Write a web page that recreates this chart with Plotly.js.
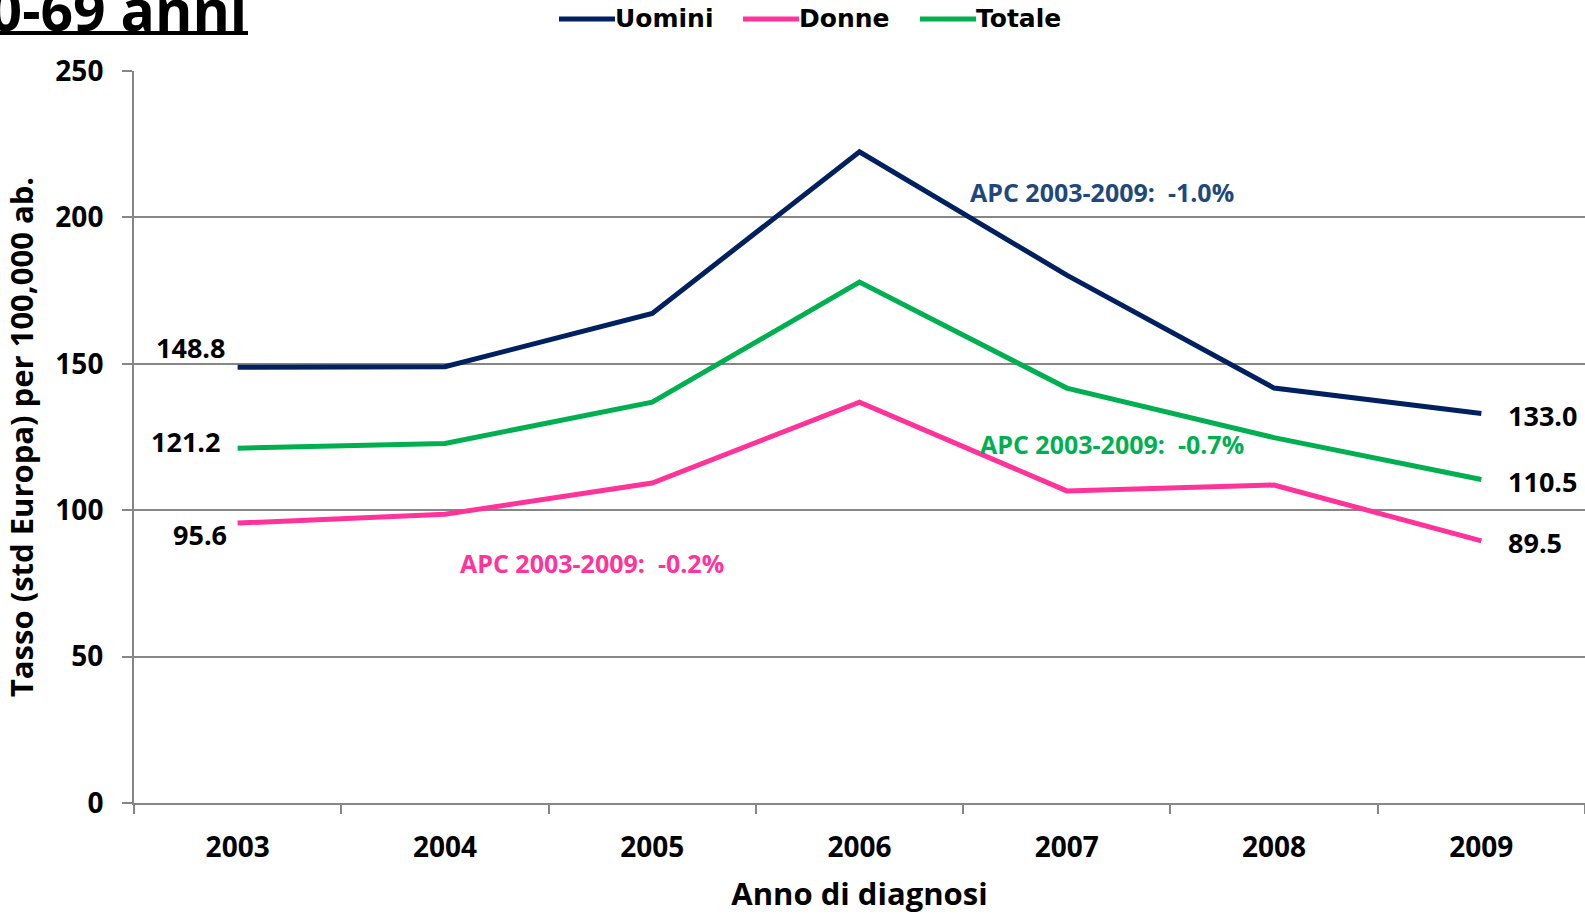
<!DOCTYPE html>
<html>
<head>
<meta charset="utf-8">
<script src="https://cdn.plot.ly/plotly-3.0.1.min.js"></script>
<style>
  html, body { margin: 0; padding: 0; background: #ffffff; }
  #chart { width: 1585px; height: 914px; }
</style>
</head>
<body>
<div id="chart"></div>
<script>
// ---- Data ----
const years = ["2003", "2004", "2005", "2006", "2007", "2008", "2009"];
const uomini = [148.8, 149.0, 167.2, 222.4, 180.3, 141.7, 133.0];
const donne  = [95.6, 98.6, 109.3, 136.9, 106.6, 108.6, 89.5];
const totale = [121.2, 122.8, 136.9, 177.9, 141.7, 124.8, 110.5];
const seriesNames = ["Uomini", "Donne", "Totale"];
const apcLabels = ["APC 2003-2009:\u00a0\u00a0-1.0%", "APC 2003-2009:\u00a0\u00a0-0.2%", "APC 2003-2009:\u00a0\u00a0-0.7%"];
const titleText = "50-69 anni";
const yTicks = [0, 50, 100, 150, 200, 250];

const colors = ["#002060", "#ff3399", "#00b050"];
const apcColors = ["#1f497d", "#ff3399", "#00b050"];
const FONT = "'Open Sans', 'DejaVu Sans', sans-serif";

const allSeries = [uomini, donne, totale];

const traces = allSeries.map((vals, i) => ({
  type: "scatter",
  mode: "lines",
  x: years,
  y: vals,
  name: seriesNames[i],
  line: { color: colors[i], width: 5 },
  hoverinfo: "x+y+name"
}));

// plot geometry helpers (paper coords from pixels)
const W = 1585, H = 914, ML = 134, MR = 0, MT = 71, MB = 111;
const PW = W - ML - MR, PH = H - MT - MB;
const px = v => (v - ML) / PW;
const py = v => 1 + (MT - v) / PH;

// end-point labels (category axis: use indices)
const first = 0, last = years.length - 1;
const leftShift = [{ x: -11, y: 20 }, { x: -9, y: -11 }, { x: -16, y: 7 }];
const annotations = [];
allSeries.forEach((vals, i) => {
  annotations.push({
    x: first, y: vals[first], xref: "x", yref: "y",
    text: vals[first].toFixed(1), showarrow: false,
    xanchor: "right", yanchor: "middle",
    xshift: leftShift[i].x, yshift: leftShift[i].y,
    font: { family: FONT, size: 27, color: "#000000", weight: 700 }
  });
  annotations.push({
    x: last, y: vals[last], xref: "x", yref: "y",
    text: vals[last].toFixed(1), showarrow: false,
    xanchor: "left", yanchor: "middle",
    xshift: 25, yshift: -2,
    font: { family: FONT, size: 27, color: "#000000", weight: 700 }
  });
});

// APC labels (positioned in axis coordinates)
const apcPos = [{ x: 4.17, y: 208.7 }, { x: 1.71, y: 81.9 }, { x: 4.22, y: 122.5 }];
apcLabels.forEach((t, i) => {
  annotations.push({
    x: apcPos[i].x, y: apcPos[i].y, xref: "x", yref: "y",
    text: t, showarrow: false, xanchor: "center", yanchor: "middle",
    font: { family: FONT, size: 25, color: apcColors[i], weight: 700 }
  });
});

// Page title (cut off at left edge as in reference)
annotations.push({
  x: px(249), y: py(9), xref: "paper", yref: "paper",
  text: titleText, showarrow: false, xanchor: "right", yanchor: "middle",
  font: { family: FONT, size: 57, color: "#000000", weight: 700 }
});

const shapes = [
  { type: "line", xref: "paper", yref: "paper",
    x0: px(-5), x1: px(248), y0: py(33), y1: py(33),
    line: { color: "#000000", width: 4 } }
];

// custom legend with long line symbols
const legendStarts = [559, 743, 920];
seriesNames.forEach((n, i) => {
  const x0 = legendStarts[i];
  shapes.push({ type: "line", xref: "paper", yref: "paper",
    x0: px(x0), x1: px(x0 + 56), y0: py(19), y1: py(19),
    line: { color: colors[i], width: 5 } });
  annotations.push({ x: px(x0 + 56), y: py(19), xref: "paper", yref: "paper",
    text: n, showarrow: false, xanchor: "left", yanchor: "middle", xshift: -2,
    font: { family: "'DejaVu Sans', sans-serif", size: 25, color: "#000000", weight: 700 } });
});

const layout = {
  width: W, height: H,
  margin: { l: ML, r: MR, t: MT, b: MB },
  paper_bgcolor: "#ffffff", plot_bgcolor: "#ffffff",
  showlegend: false,
  xaxis: {
    type: "category",
    range: [-0.5, 6.5],
    showgrid: false,
    showline: true, linecolor: "#868686", linewidth: 2,
    ticks: "outside", tickson: "boundaries", ticklen: 9, tickcolor: "#868686", tickwidth: 2,
    ticklabelstandoff: 18,
    tickfont: { family: FONT, size: 28, color: "#000000", weight: 700 },
    title: { text: "Anno di diagnosi", standoff: 26,
             font: { family: FONT, size: 31, color: "#000000", weight: 700 } },
    fixedrange: true
  },
  yaxis: {
    range: [0, 250],
    tickvals: yTicks,
    showgrid: true, gridcolor: "#868686", gridwidth: 2,
    zeroline: false,
    showline: true, linecolor: "#868686", linewidth: 2,
    ticks: "outside", ticklen: 10, tickcolor: "#868686", tickwidth: 2,
    ticklabelstandoff: 13,
    tickfont: { family: FONT, size: 28, color: "#000000", weight: 700 },
    title: { text: "Tasso (std Europa) per 100,000 ab.", standoff: 13,
             font: { family: FONT, size: 31, color: "#000000", weight: 700 } },
    fixedrange: true
  },
  shapes: shapes,
  annotations: annotations
};

Plotly.newPlot("chart", traces, layout, { displayModeBar: false, staticPlot: true });
</script>
</body>
</html>
